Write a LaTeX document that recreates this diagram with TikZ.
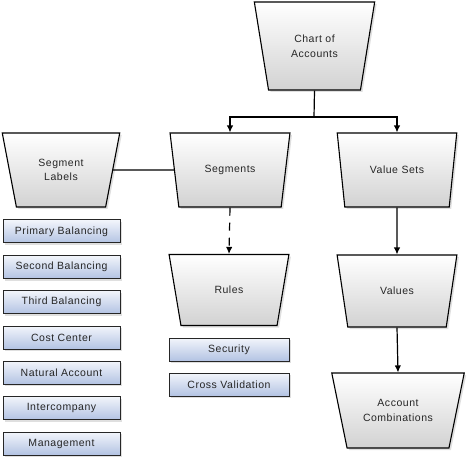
\documentclass[tikz,border=0pt]{standalone}
\usepackage{fontspec}
\setmainfont{Liberation Sans}[LetterSpace=5]
\usetikzlibrary{shapes.geometric,shadows,arrows.meta}
\definecolor{boxtop}{HTML}{F2F5FB}
\definecolor{boxbot}{HTML}{B3C3E3}
\definecolor{trapbot}{HTML}{D2D2D2}

\begin{document}
\begin{tikzpicture}[x=1pt,y=-1pt,
		trap/.style={
			trapezium,
			trapezium left angle=107,
			trapezium right angle=107,
			trapezium stretches=true,
			minimum width=120pt,
			minimum height=74pt,
			draw=black, line width=1.1pt,
			top color=white, bottom color=trapbot,
			drop shadow={shadow xshift=2pt, shadow yshift=-2pt, fill=black!25},
			align=center,
			text=black!85,
			font=\fontsize{10.5}{14.5}\selectfont,
		},
		lblbox/.style={
			draw=black!85, line width=1pt,
			minimum width=117pt,
			minimum height=23pt,
			inner sep=0pt,
			top color=boxtop, bottom color=boxbot,
			drop shadow={shadow xshift=2pt, shadow yshift=-2pt, fill=black!25},
			text=black!85,
			font=\fontsize{10.5}{12.5}\selectfont,
		},
		conn/.style={line width=1.2pt, black},
		tip/.style={-{Latex[length=7pt,width=6.5pt]}},
	]
	\useasboundingbox (0,0) rectangle (468,462);

	% top of the tree
	\node[trap, minimum height=88pt, minimum width=121pt,
		trapezium left angle=106, trapezium right angle=106] (chart) at (314.5,46) {Chart of\\Accounts};

	% second row
	\node[trap, minimum width=118pt, trapezium left angle=106,
		trapezium right angle=106] (seglabels) at (61,170) {Segment\\Labels};
	\node[trap] (segs) at (230,170) {Segments};
	\node[trap] (valsets) at (397,170) {Value Sets};

	% third row
	\node[trap, minimum height=71pt] (rules) at (229,290) {Rules};
	\node[trap, minimum height=72pt] (values) at (397,291) {Values};

	% bottom
	\node[trap, minimum width=133pt, minimum height=75pt,
		trapezium left angle=112, trapezium right angle=112] (acccomb) at (398,410.5) {Account\\Combinations};

	% segment labels
	\node[lblbox] (primbal) at (61.5,231.5) {Primary Balancing};
	\node[lblbox] (secbal) at (61.5,267) {Second Balancing};
	\node[lblbox] (thirdbal) at (61.5,302) {Third Balancing};
	\node[lblbox] (costctr) at (61.5,337.5) {Cost Center};
	\node[lblbox] (natacct) at (61.5,372.5) {Natural Account};
	\node[lblbox] (intercomp) at (61.5,408) {Intercompany};
	\node[lblbox] (mgmt) at (61.5,443.5) {Management};

	% rules
	\node[lblbox, minimum width=120pt] (security) at (229,349.5) {Security};
	\node[lblbox, minimum width=120pt] (crossval) at (229,384.5) {Cross Validation};

	% connectors
	\coordinate (split) at (314,117);
	\draw[conn] (chart.south) -- (split);
	\draw[conn,tip] (split) -| (segs.north);
	\draw[conn,tip] (split) -| (valsets.north);
	\draw[conn] (seglabels.east) -- (segs.west);
	\draw[conn,tip,dash pattern=on 8pt off 7pt] (segs.south) -- (rules.north);
	\draw[conn,tip] (valsets.south) -- (values.north);
	\draw[conn,tip] (values.south) -- (acccomb.north);

\end{tikzpicture}
\end{document}
